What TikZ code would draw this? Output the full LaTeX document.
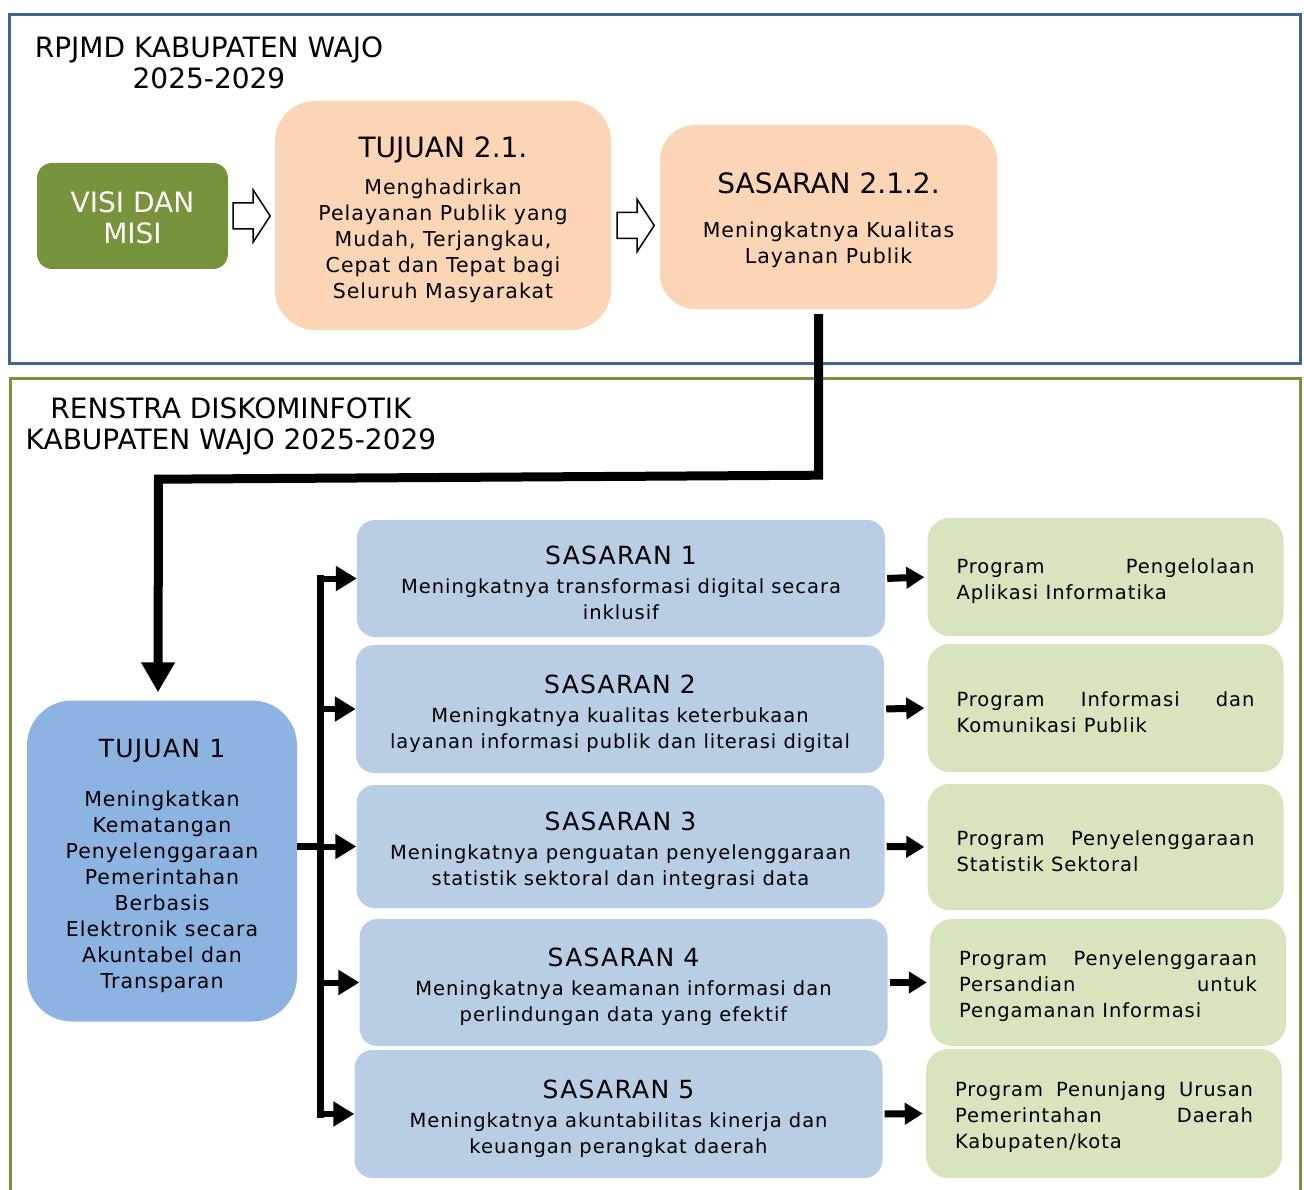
\documentclass[tikz,border=0pt]{standalone}
\usepackage{fontspec}
\setmainfont{DejaVu Sans}
\newfontfamily\spaced[LetterSpace=5]{DejaVu Sans}
\usetikzlibrary{arrows.meta, calc}

\definecolor{frameblue}{RGB}{65,101,145}
\definecolor{framegreen}{RGB}{119,147,60}
\definecolor{visigreen}{RGB}{119,147,60}
\definecolor{peach}{RGB}{251,213,181}
\definecolor{tujblue}{RGB}{141,179,226}
\definecolor{sasblue}{RGB}{185,205,229}
\definecolor{proggreen}{RGB}{215,228,189}
% invisible rule that lowers the text in a box
\newcommand{\topgap}[1]{\vrule width 0pt height #1\relax}

\begin{document}
\begin{tikzpicture}[x=1pt, y=-1pt,
    box/.style={rounded corners=#1, inner sep=0pt, align=center},
    titletext/.style={align=center, font=\fontsize{28}{31}\selectfont},
    sasbox/.style={box=18pt, fill=sasblue, minimum width=528pt, font=\spaced\fontsize{19.5}{26}\selectfont},
    progbox/.style={fill=proggreen, rounded corners=22pt, text width=298pt, align=justify,
        inner xsep=29pt, inner ysep=0pt, font=\spaced\fontsize{19.5}{26}\selectfont},
    hollow/.style={draw, line width=1.5pt, fill=white, line join=miter},
    bigarrow/.style={line width=9pt, -{Triangle[length=30pt, width=32pt]}},
    busline/.style={line width=7pt, line cap=rect},
    busarrow/.style={line width=6pt, -{Triangle[length=21pt, width=24pt]}},
    progarrow/.style={line width=7pt, shorten <=2pt, shorten >=3pt, -{Triangle[length=18pt, width=21pt]}}]
    \useasboundingbox (0,0) rectangle (1304,1190);

    % frames
    \draw[frameblue, line width=3pt] (9,15) rectangle (1300,363);
    \draw[framegreen, line width=3pt] (10,378) rectangle (1300,1205);
    \node[titletext] (rpjmd) at (209,63) {RPJMD KABUPATEN WAJO\\2025-2029};
    \node[titletext] (renstra) at (231,426) {RENSTRA DISKOMINFOTIK\\KABUPATEN WAJO 2025-2029};

    % RPJMD part
    \node[box=15pt, fill=visigreen, text=white, minimum width=191pt, minimum height=106pt,
        font=\fontsize{28}{31}\selectfont] (visi) at (132.5,216) {\topgap{24.5pt}VISI DAN\\MISI};
    \node[box=40pt, fill=peach, minimum width=336pt, minimum height=229pt,
        font=\spaced\fontsize{20.5}{26}\selectfont] (tuj21) at (443,215.5)
        {{\rmfamily\fontsize{28}{31}\selectfont\topgap{29.5pt}TUJUAN 2.1.}\\[11pt]Menghadirkan\\Pelayanan Publik yang\\Mudah, Terjangkau,\\Cepat dan Tepat bagi\\Seluruh Masyarakat};
    \node[box=35pt, fill=peach, minimum width=337pt, minimum height=184pt,
        font=\spaced\fontsize{20.5}{26}\selectfont] (sas212) at (828.5,217)
        {{\rmfamily\fontsize{28}{31}\selectfont\topgap{27.5pt}SASARAN 2.1.2.}\\[18pt]Meningkatnya Kualitas\\Layanan Publik};
    \draw[hollow] ($(visi.east)+(5,-13)$) -- ++(20,0) -- ++(0,-13) -- ++(17,26) -- ++(-17,26)
        -- ++(0,-13) -- ++(-20,0) -- cycle;
    \draw[hollow] ($(tuj21.east)+(6,-3)$) -- ++(20,0) -- ++(0,-13) -- ++(17,26) -- ++(-17,26)
        -- ++(0,-13) -- ++(-20,0) -- cycle;

    % Renstra part
    \node[box=45pt, fill=tujblue, minimum width=270pt, minimum height=321pt,
        font=\spaced\fontsize{20.5}{26}\selectfont] (tuj1) at (162,861)
        {{\fontsize{25}{26}\selectfont\topgap{27.5pt}TUJUAN 1}\\[23pt]Meningkatkan\\Kematangan\\Penyelenggaraan\\Pemerintahan\\Berbasis\\Elektronik secara\\Akuntabel dan\\Transparan};

    \node[sasbox, minimum height=117pt] (sas1) at (621,578.5)
        {{\fontsize{25}{26}\selectfont\topgap{27.5pt}SASARAN 1}\\[3pt]Meningkatnya transformasi digital secara\\inklusif};
    \node[sasbox, minimum height=128pt] (sas2) at (620,709)
        {{\fontsize{25}{26}\selectfont\topgap{27.5pt}SASARAN 2}\\[3pt]Meningkatnya kualitas keterbukaan\\layanan informasi publik dan literasi digital};
    \node[sasbox, minimum height=123pt] (sas3) at (620.5,846.5)
        {{\fontsize{25}{26}\selectfont\topgap{27.5pt}SASARAN 3}\\[3pt]Meningkatnya penguatan penyelenggaraan\\statistik sektoral dan integrasi data};
    \node[sasbox, minimum height=127pt] (sas4) at (623.5,982.5)
        {{\fontsize{25}{26}\selectfont\topgap{27.5pt}SASARAN 4}\\[3pt]Meningkatnya keamanan informasi dan\\perlindungan data yang efektif};
    \node[sasbox, minimum height=128pt] (sas5) at (618.5,1114)
        {{\fontsize{25}{26}\selectfont\topgap{27.5pt}SASARAN 5}\\[3pt]Meningkatnya akuntabilitas kinerja dan\\keuangan perangkat daerah};

    \node[progbox, minimum height=118pt] (prog1) at (1105.5,577) {\topgap{23pt}Program Pengelolaan\linebreak Aplikasi Informatika};
    \node[progbox, minimum height=128pt] (prog2) at (1105.5,708) {\topgap{23pt}Program Informasi dan\linebreak Komunikasi Publik};
    \node[progbox, minimum height=126pt] (prog3) at (1105.5,847) {\topgap{23pt}Program Penyelenggaraan\linebreak Statistik Sektoral};
    \node[progbox, minimum height=127pt] (prog4) at (1108,982.5) {\topgap{23pt}Program Penyelenggaraan\linebreak Persandian untuk\linebreak Pengamanan Informasi};
    \node[progbox, minimum height=129pt] (prog5) at (1104,1113.5) {\topgap{23pt}Program Penunjang Urusan\linebreak Pemerintahan Daerah\linebreak Kabupaten/kota};

    % connectors
    \draw[bigarrow] ([xshift=-10pt, yshift=-5pt]sas212.south) -- ++(0,161) -- ++(-660,4)
        -- ([xshift=-4pt, yshift=8pt]tuj1.north);
    \coordinate (bus) at (320,0);
    \draw[busline] (sas1.west -| bus) -- (sas5.west -| bus);
    \draw[line width=7pt] ([yshift=15pt]tuj1.east) -- ([yshift=15pt]tuj1.east -| bus);
    \foreach \s in {1,...,5} {
        \draw[busarrow] (sas\s.west -| bus) -- (sas\s.west);
        \draw[progarrow] (sas\s.east) -- (prog\s.west);
    }
\end{tikzpicture}
\end{document}
